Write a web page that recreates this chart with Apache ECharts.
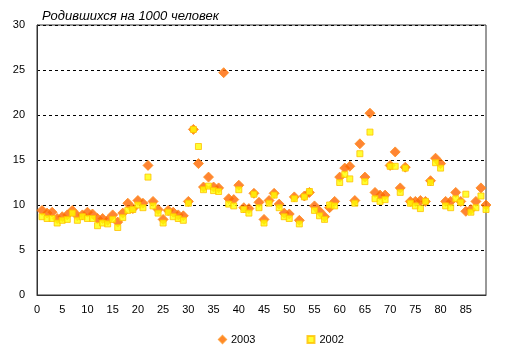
<!DOCTYPE html>
<html><head><meta charset="utf-8">
<script src="https://cdn.jsdelivr.net/npm/echarts@6/dist/echarts.min.js"></script>
<style>html,body{margin:0;padding:0;background:#fff}#c{width:509px;height:359px}</style>
</head><body><div id="c"></div>
<script>
const titleText = 'Родившихся на 1000 человек';
const seriesNames = ['2003', '2002'];
const ages = [];
for (let a = 1; a <= 89; a++) ages.push(a);
const y2003 = [9.4,9.1,9.2,8.5,8.7,8.9,9.4,8.8,8.9,9.2,
  9.0,8.5,8.5,8.3,8.9,8.1,9.1,10.2,9.6,10.5,
  10.2,14.4,10.4,9.5,8.4,9.4,9.2,8.9,8.8,10.4,
  18.4,14.6,12.0,13.1,12.0,11.9,24.7,10.7,10.6,12.2,
  9.7,9.6,11.3,10.3,8.4,10.5,11.3,10.1,9.1,9.0,
  10.9,8.3,11.0,11.4,9.9,9.3,8.7,9.7,10.4,13.1,
  14.1,14.3,10.5,16.8,13.1,20.2,11.4,11.1,11.1,14.4,
  15.9,11.9,14.2,10.4,10.4,10.5,10.4,12.7,15.2,14.6,
  10.4,10.4,11.4,10.4,9.3,9.5,10.4,11.9,10.0];
const y2002 = [8.7,8.5,8.5,8.0,8.3,8.4,9.1,8.3,8.7,8.5,
  8.5,7.7,8.0,7.9,8.4,7.5,8.6,9.4,9.5,10.0,
  9.7,13.1,9.9,9.1,8.0,9.2,8.7,8.5,8.3,10.2,
  18.4,16.5,11.7,12.1,11.6,11.5,null,10.1,9.9,11.7,
  9.5,9.1,11.2,9.7,8.0,10.2,11.1,9.7,8.7,8.5,
  10.7,7.9,10.9,11.5,9.4,8.8,8.4,10.0,9.9,12.5,
  13.4,12.9,10.2,15.7,12.6,18.1,10.7,10.4,10.6,14.3,
  14.3,11.4,14.1,10.2,9.9,9.6,10.4,12.5,14.7,14.1,
  9.9,9.7,10.7,10.3,11.2,9.2,9.7,11.0,9.5];

const pts = (ys) => ages.map((a, i) => ys[i] == null ? null : [a, ys[i]]).filter(p => p);
const font = '"Liberation Sans", Arial, sans-serif';
const chart = echarts.init(document.getElementById('c'), null, {renderer: 'canvas'});
chart.setOption({
  animation: false,
  backgroundColor: '#fff',
  title: {text: titleText, left: 37, top: 5,
    textStyle: {fontFamily: font, fontSize: 13, fontStyle: 'italic', fontWeight: 'normal', color: '#000'}},
  grid: {left: 37, right: 23, top: 25, bottom: 64, show: true, borderColor: '#333', borderWidth: 1},
  legend: {bottom: 9, left: 213, itemGap: 51, itemWidth: 7, itemHeight: 7,
    textStyle: {fontFamily: font, fontSize: 11, color: '#000'},
    data: [{name: '2003', icon: 'diamond'}, {name: '2002', icon: 'rect'}]},
  xAxis: {type: 'value', min: 0, max: 89, interval: 5,
    axisLine: {show: true, lineStyle: {color: '#333'}}, axisTick: {show: false},
    splitLine: {show: false},
    axisLabel: {fontFamily: font, fontSize: 11, color: '#000', margin: 9,
      formatter: v => (v % 5 === 0 ? String(v) : '')}},
  yAxis: {type: 'value', min: 0, max: 30, interval: 5,
    axisLine: {show: true, lineStyle: {color: '#333'}}, axisTick: {show: false},
    splitLine: {show: true, lineStyle: {color: '#000', type: [3, 3], width: 1}},
    axisLabel: {fontFamily: font, fontSize: 11, color: '#000', margin: 12}},
  series: [
    {name: seriesNames[0], type: 'scatter', symbol: 'diamond', symbolSize: 10,
      itemStyle: {color: '#FF6600', borderColor: '#FF8C1A', borderWidth: 1}, data: pts(y2003)},
    {name: seriesNames[1], type: 'scatter', symbol: 'rect', symbolSize: 6,
      itemStyle: {color: '#FFFF00', borderColor: '#FFC000', borderWidth: 1}, data: pts(y2002)}
  ]
});
</script></body></html>
